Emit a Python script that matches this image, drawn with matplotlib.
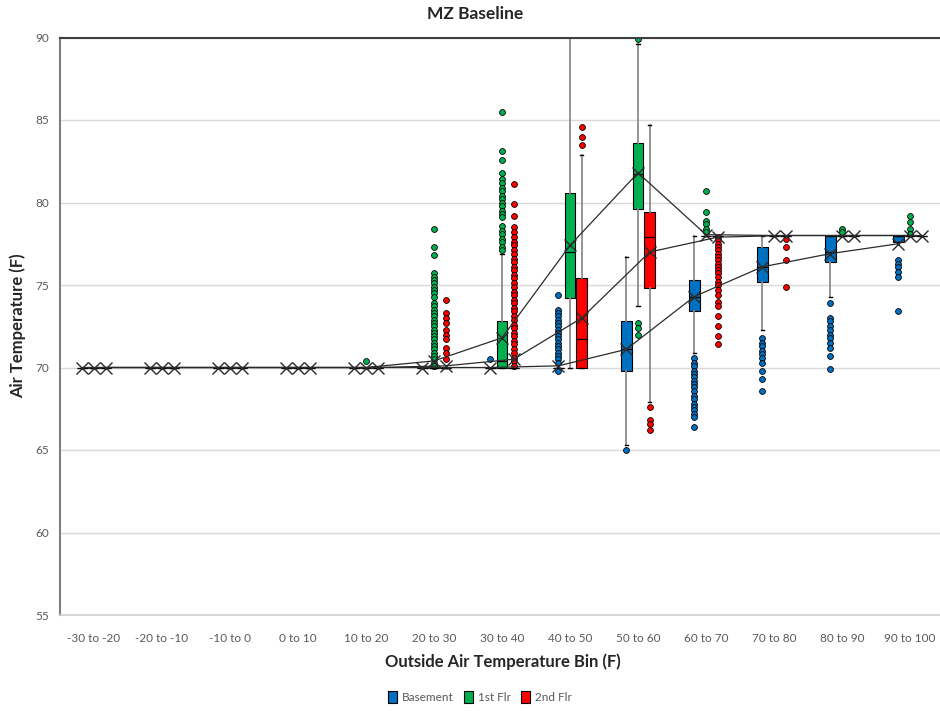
import matplotlib
matplotlib.use("Agg")
import matplotlib.pyplot as plt
from matplotlib.patches import Patch
import numpy as np

plt.rcParams['font.family'] = ['Lato', 'DejaVu Sans']

bins = ["-30 to -20", "-20 to -10", "-10 to 0", "0 to 10", "10 to 20", "20 to 30",
        "30 to 40", "40 to 50", "50 to 60", "60 to 70", "70 to 80", "80 to 90", "90 to 100"]

series_names = ["Basement", "1st Flr", "2nd Flr"]
series_colors = ["#0070C0", "#00B050", "#FF0000"]

# Basement
base_q1 = [70, 70, 70, 70, 70, 70, 70, 70, 69.8, 73.4, 75.2, 76.4, 77.6]
base_med = [70, 70, 70, 70, 70, 70, 70, 70, 71.1, 74.3, 76.1, 77.0, 78.0]
base_q3 = [70, 70, 70, 70, 70, 70, 70, 70, 72.8, 75.3, 77.3, 78.0, 78.0]
base_lo = [70, 70, 70, 70, 70, 70, 70, 70, 65.3, 70.9, 72.3, 74.3, 77.6]
base_hi = [70, 70, 70, 70, 70, 70, 70, 70, 76.7, 78.0, 78.0, 78.0, 78.0]
base_mean = [70, 70, 70, 70, 70, 70, 70, 70.1, 71.1, 74.3, 76.1, 76.9, 77.5]
base_out = [
    [], [], [], [], [], [],
    [70.5],
    [74.4, 73.5, 73.3, 73.1, 72.9, 72.7, 72.5, 72.3, 72.1, 71.9, 71.7, 71.5, 71.3,
     71.1, 70.9, 70.7, 70.5, 70.3, 69.8],
    [65.0],
    [70.6, 70.3, 70.1, 69.8, 69.6, 69.4, 69.2, 69.0, 68.8, 68.6, 68.3, 68.1, 67.8,
     67.6, 67.4, 67.2, 67.0, 66.4],
    [71.8, 71.5, 71.3, 71.0, 70.8, 70.6, 70.3, 69.8, 69.3, 68.6],
    [73.9, 73.0, 72.8, 72.5, 72.3, 72.0, 71.8, 71.5, 71.2, 70.7, 69.9],
    [76.5, 76.3, 76.1, 75.8, 75.5, 73.4],
]

# 1st floor
flr1_q1 = [70, 70, 70, 70, 70, 70, 70.0, 74.2, 79.6, 78, 78, 78, 78]
flr1_med = [70, 70, 70, 70, 70, 70, 70.4, 77.0, 81.7, 78, 78, 78, 78]
flr1_q3 = [70, 70, 70, 70, 70, 70, 72.8, 80.6, 83.6, 78, 78, 78, 78]
flr1_lo = [70, 70, 70, 70, 70, 70, 70.0, 70.0, 73.7, 78, 78, 78, 78]
flr1_hi = [70, 70, 70, 70, 70, 70, 76.9, 95.0, 89.6, 78, 78, 78, 78]
flr1_mean = [70, 70, 70, 70, 70, 70.4, 71.8, 77.4, 81.8, 78.05, 78, 78, 78]
flr1_out = [
    [], [], [], [],
    [70.4],
    [78.4, 77.3, 76.8, 75.7, 75.5, 75.3, 75.1, 74.9, 74.7, 74.5, 74.3, 73.9, 73.7,
     73.5, 73.3, 73.1, 72.9, 72.7, 72.5, 72.3, 72.1, 71.9, 71.7, 71.5, 71.3, 71.1,
     70.9, 70.7, 70.5, 70.3, 70.1],
    [85.5, 83.1, 82.6, 81.8, 81.4, 81.2, 80.9, 80.7, 80.4, 80.2, 80.0, 79.8, 79.5,
     79.3, 79.1, 78.6, 78.3, 78.1, 77.8, 77.6, 77.3, 77.1],
    [],
    [89.9, 72.7, 72.4, 72.0],
    [80.7, 79.4, 78.9, 78.7, 78.4, 78.2],
    [],
    [78.4, 78.2],
    [79.2, 78.8, 78.4, 78.1],
]

# 2nd floor
flr2_q1 = [70, 70, 70, 70, 70, 70, 70, 70.0, 74.8, 78, 78, 78, 78]
flr2_med = [70, 70, 70, 70, 70, 70, 70, 71.7, 77.9, 78, 78, 78, 78]
flr2_q3 = [70, 70, 70, 70, 70, 70, 70, 75.4, 79.4, 78, 78, 78, 78]
flr2_lo = [70, 70, 70, 70, 70, 70, 70, 70.0, 67.9, 78, 78, 78, 78]
flr2_hi = [70, 70, 70, 70, 70, 70, 70, 82.9, 84.7, 78, 78, 78, 78]
flr2_mean = [70, 70, 70, 70, 70, 70.1, 70.5, 73.0, 77.0, 77.9, 78, 78, 78]
flr2_out = [
    [], [], [], [], [],
    [74.1, 73.3, 73.0, 72.7, 72.3, 72.0, 71.7, 71.2, 70.9, 70.5],
    [81.1, 79.9, 79.2, 78.5, 78.2, 77.9, 77.6, 77.4, 77.1, 76.9, 76.6, 76.4, 76.1,
     75.9, 75.6, 75.4, 75.1, 74.9, 74.6, 74.4, 74.1, 73.9, 73.6, 73.4, 73.1, 72.9,
     72.6, 72.4, 72.1, 71.9, 71.6, 71.4, 71.1, 70.9, 70.6, 70.4, 70.1],
    [84.6, 84.0, 83.5],
    [67.6, 66.8, 66.6, 66.2],
    [77.9, 77.7, 77.5, 77.3, 77.1, 76.9, 76.7, 76.5, 76.3, 76.1, 75.9, 75.7, 75.5,
     75.2, 75.0, 74.7, 74.4, 74.0, 73.7, 73.1, 72.5, 71.9, 71.4],
    [77.8, 77.3, 76.5, 74.9],
    [], [],
]

series = [
    (base_q1, base_med, base_q3, base_lo, base_hi, base_mean, base_out),
    (flr1_q1, flr1_med, flr1_q3, flr1_lo, flr1_hi, flr1_mean, flr1_out),
    (flr2_q1, flr2_med, flr2_q3, flr2_lo, flr2_hi, flr2_mean, flr2_out),
]

W, H = 940, 711
fig = plt.figure(figsize=(W / 100, H / 100), dpi=100)
ax = fig.add_axes([60 / W, 1 - 615 / H, (944 - 60) / W, (615 - 37.5) / H])

x = np.arange(len(bins))
offsets = [-0.172, 0.0, 0.172]
box_w = 0.155

for (q1, med, q3, lo, hi, mean, out), color, off in zip(series, series_colors, offsets):
    stats = []
    for i in range(len(bins)):
        stats.append(dict(q1=q1[i], med=med[i], q3=q3[i], whislo=lo[i], whishi=hi[i],
                          mean=mean[i], fliers=out[i]))
    pos = x + off
    ax.bxp(stats, positions=pos, widths=box_w, patch_artist=True, showmeans=False,
           capwidths=0.05, manage_ticks=False,
           boxprops=dict(facecolor=color, edgecolor="black", linewidth=0.8),
           medianprops=dict(color="black", linewidth=0.9),
           whiskerprops=dict(color="#8c8c8c", linewidth=1.3),
           capprops=dict(color="black", linewidth=1.0),
           flierprops=dict(marker="o", markerfacecolor=color, markeredgecolor="black",
                           markeredgewidth=0.6, markersize=4.2))
    ax.plot(pos, mean, color="#2b2b2b", linewidth=0.9, zorder=4,
            marker="x", markersize=8, markeredgewidth=1.0,
            markeredgecolor="#2b2b2b")

ax.set_xlim(-0.5, len(bins) - 0.5)
ax.set_ylim(55, 90)
ax.set_yticks([55, 60, 65, 70, 75, 80, 85, 90])
ax.set_xticks(x)
ax.set_xticklabels(bins)
ax.tick_params(axis="both", length=0, labelsize=8.5, labelcolor="#595959")
ax.tick_params(axis="x", pad=13)
ax.tick_params(axis="y", pad=8)
ax.yaxis.grid(True, color="#d9d9d9", linewidth=1.0)
ax.set_axisbelow(True)

ax.spines["right"].set_visible(False)
ax.spines["top"].set_color("#404040")
ax.spines["top"].set_linewidth(1.5)
ax.spines["left"].set_color("#7f7f7f")
ax.spines["left"].set_linewidth(1.5)
ax.spines["bottom"].set_color("#d0d0d0")
ax.spines["bottom"].set_linewidth(1.2)

fig.text(475 / W, 1 - 14 / H, "MZ Baseline", ha="center", va="center",
         fontsize=12.5, fontweight="bold", color="#262626")
fig.text(503 / W, 1 - 662 / H, "Outside Air Temperature Bin (F)", ha="center",
         va="center", fontsize=12, fontweight="bold", color="#262626")
fig.text(18 / W, 1 - 326 / H, "Air Temperature (F)", ha="center", va="center",
         rotation=90, fontsize=12, fontweight="bold", color="#262626")

handles = [Patch(facecolor=c, edgecolor="black", linewidth=0.8) for c in series_colors]
fig.legend(handles, series_names, loc="center", bbox_to_anchor=(480 / W, 1 - 697 / H),
           ncol=3, frameon=False, fontsize=8.5, handlelength=0.75, handleheight=1.2,
           handletextpad=0.4, columnspacing=0.9, labelcolor="#595959")

fig.savefig("out.png", dpi=100)
